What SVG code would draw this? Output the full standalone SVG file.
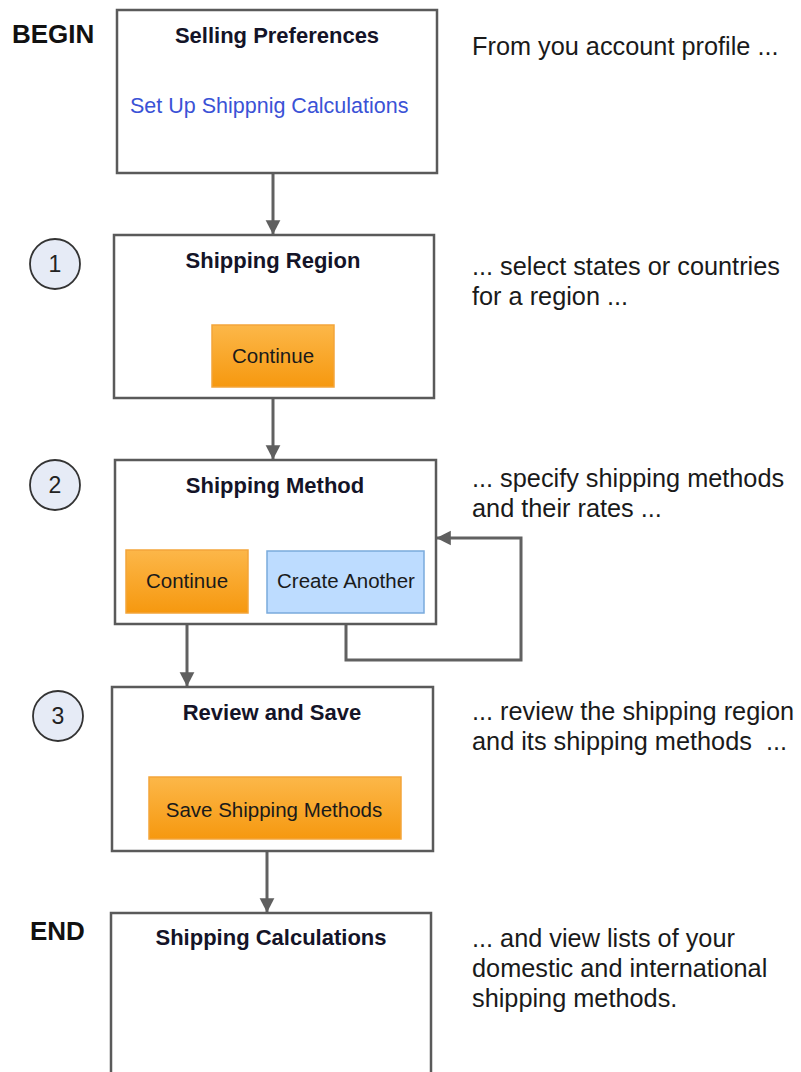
<svg xmlns="http://www.w3.org/2000/svg" width="801" height="1072" viewBox="0 0 801 1072">
<defs>
<linearGradient id="og" x1="0" y1="0" x2="0" y2="1">
<stop offset="0" stop-color="#fcb749"/>
<stop offset="1" stop-color="#f6980f"/>
</linearGradient>
<marker id="ah" markerWidth="5.5" markerHeight="5.5" refX="4.6" refY="2.75" orient="auto" markerUnits="strokeWidth">
<path d="M0,0.3 L4.8,2.75 L0,5.2 z" fill="#5f5f5f"/>
</marker>
<style>
.box{fill:#fff;stroke:#5a5a5a;stroke-width:2.5}
.title{font-family:"Liberation Sans",Arial,sans-serif;font-weight:bold;font-size:22px;fill:#141428;text-anchor:middle}
.btn{fill:url(#og);stroke:#f3a53a;stroke-width:1.5}
.btnb{fill:#bddcff;stroke:#7aaadc;stroke-width:1.5}
.bt{font-family:"Liberation Sans",Arial,sans-serif;font-size:20.5px;fill:#1a1a1a;text-anchor:middle}
.note{font-family:"Liberation Sans",Arial,sans-serif;font-size:25.3px;fill:#1a1a1a}
.big{font-family:"Liberation Sans",Arial,sans-serif;font-weight:bold;font-size:26px;fill:#111}
.circ{fill:#e6ebf6;stroke:#333;stroke-width:1.8}
.num{font-family:"Liberation Sans",Arial,sans-serif;font-size:23px;fill:#222;text-anchor:middle}
.con{fill:none;stroke:#616161;stroke-width:3;marker-end:url(#ah)}
</style>
</defs>
<rect width="801" height="1072" fill="#fff"/>

<g id="labels">
<text class="big" x="12" y="43">BEGIN</text>
<text class="big" x="30" y="940">END</text>
</g>

<g id="step1"><circle class="circ" cx="55" cy="264" r="25"/><text class="num" x="55" y="272">1</text></g>
<g id="step2"><circle class="circ" cx="55" cy="485" r="25"/><text class="num" x="55" y="493">2</text></g>
<g id="step3"><circle class="circ" cx="58" cy="716" r="25"/><text class="num" x="58" y="724">3</text></g>

<g id="connectors">
<path class="con" d="M273,173 V234"/>
<path class="con" d="M273,398 V459"/>
<path class="con" d="M187,624 V686"/>
<path class="con" d="M267,851 V912"/>
<path class="con" d="M346,624 V660 H521 V538 H437"/>
</g>

<g id="selling-preferences">
<rect class="box" x="117" y="10" width="320" height="163"/>
<text class="title" x="277" y="43">Selling Preferences</text>
<text x="130" y="113" font-family="Liberation Sans, Arial, sans-serif" font-size="21.5" fill="#3a52d6">Set Up Shippnig Calculations</text>
</g>

<g id="shipping-region">
<rect class="box" x="114" y="235" width="320" height="163"/>
<text class="title" x="273" y="268">Shipping Region</text>
<rect class="btn" x="212" y="325" width="122" height="62"/>
<text class="bt" x="273" y="363">Continue</text>
</g>

<g id="shipping-method">
<rect class="box" x="115" y="460" width="321" height="164"/>
<text class="title" x="275" y="493">Shipping Method</text>
<rect class="btn" x="126" y="550" width="122" height="63"/>
<text class="bt" x="187" y="588">Continue</text>
<rect class="btnb" x="267" y="551" width="157" height="62"/>
<text class="bt" x="346" y="588">Create Another</text>
</g>

<g id="review-save">
<rect class="box" x="112" y="687" width="321" height="164"/>
<text class="title" x="272" y="720">Review and Save</text>
<rect class="btn" x="149" y="777" width="252" height="62"/>
<text class="bt" x="274" y="817" font-size="21">Save Shipping Methods</text>
</g>

<g id="shipping-calculations">
<rect class="box" x="111" y="913" width="320" height="180"/>
<text class="title" x="271" y="945">Shipping Calculations</text>
</g>

<g id="notes">
<text class="note" x="472" y="55">From you account profile ...</text>
<text class="note" x="472" y="275">... select states or countries</text>
<text class="note" x="472" y="305">for a region ...</text>
<text class="note" x="472" y="487">... specify shipping methods</text>
<text class="note" x="472" y="517">and their rates ...</text>
<text class="note" x="472" y="720">... review the shipping region</text>
<text class="note" x="472" y="750" xml:space="preserve">and its shipping methods  ...</text>
<text class="note" x="472" y="947">... and view lists of your</text>
<text class="note" x="472" y="977">domestic and international</text>
<text class="note" x="472" y="1007">shipping methods.</text>
</g>
</svg>
